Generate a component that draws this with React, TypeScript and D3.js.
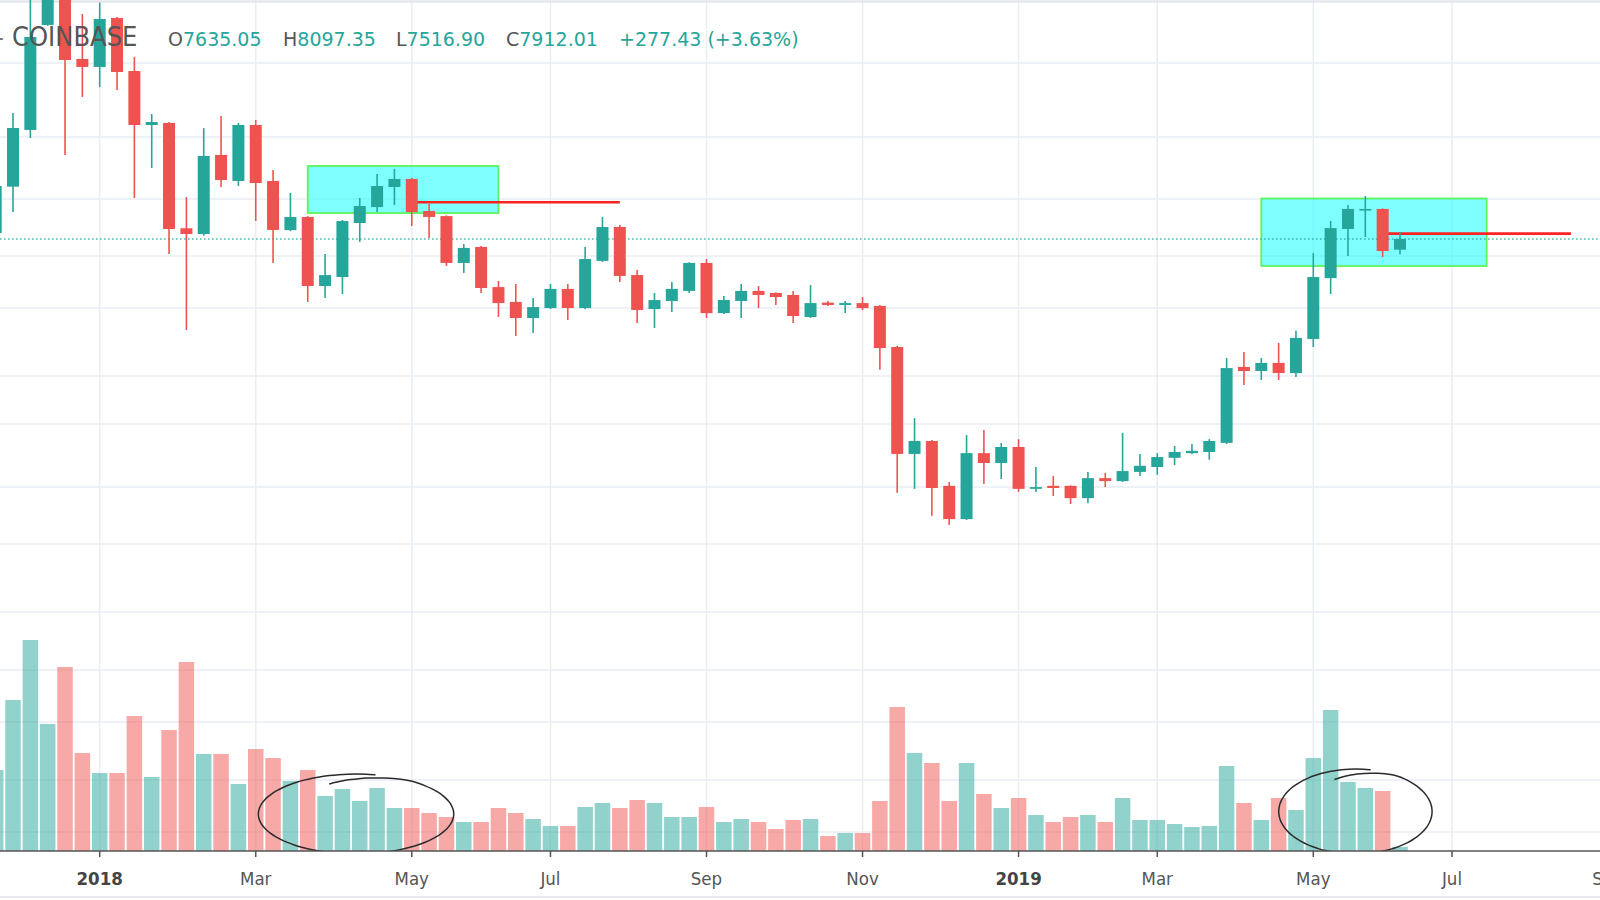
import { useEffect } from "react";
import * as d3 from "d3";

// weekly BTC/USD candles, Coinbase, week of 2017-11-20 .. 2019-06-10
const opens = [
  8070, 9420, 11380, 16150, 18900, 14420, 14040, 16530, 13850, 11570, 11650, 8200,
  8045, 10470, 9600, 11570, 9600, 8150, 8515, 6765, 6970, 8345, 8800, 9410,
  9665, 8685, 8540, 7305, 7705, 6740, 6415, 6080, 6285, 6700, 6285, 7355,
  8235, 7015, 6265, 6435, 6655, 7305, 6180, 6435, 6655, 6610, 6565, 6100,
  6400, 6350, 6390, 6330, 5520, 3865, 4035, 3475, 3110, 3875, 3750, 3955,
  3440, 3475, 3475, 3335, 3565, 3530, 3640, 3700, 3815, 3875, 3890, 4010,
  5165, 5095, 5235, 5060, 5670, 6945, 8180, 8715, 8745, 7635.05,
];
const highs = [
  9700, 12040, 19800, 19700, 19200, 16750, 17400, 16580, 14510, 12000, 11690, 9100,
  11450, 11920, 11650, 11765, 9960, 9225, 8540, 7525, 8430, 9070, 9825, 9990,
  9700, 8890, 8560, 7780, 7730, 6880, 6810, 6500, 6810, 6810, 7705, 8515,
  8290, 7135, 6610, 6855, 7320, 7400, 6545, 6810, 6765, 6620, 6655, 6785,
  6435, 6435, 6520, 6350, 5540, 4355, 4050, 3520, 4115, 4185, 4010, 4060,
  3700, 3590, 3480, 3640, 3630, 4145, 3865, 3875, 3970, 3995, 4060, 5320,
  5430, 5320, 5595, 5825, 7550, 8400, 8860, 9130, 8760, 8097.35,
];
const lows = [
  7990, 8655, 11080, 16100, 10470, 12700, 13130, 13000, 9070, 10025, 7525, 5840,
  8000, 9410, 9440, 8400, 7305, 8120, 6415, 6500, 6585, 7835, 8655, 8860,
  8265, 7940, 7230, 7065, 6610, 6100, 5725, 5785, 6265, 6040, 6260, 7330,
  6855, 5980, 5880, 6205, 6610, 6080, 6160, 6080, 6285, 6350, 5980, 6080,
  6330, 6180, 6245, 5115, 3395, 3440, 3145, 3050, 3100, 3495, 3555, 3405,
  3405, 3360, 3270, 3280, 3460, 3520, 3590, 3605, 3725, 3865, 3790, 3995,
  4865, 4945, 4945, 4995, 5520, 6585, 7475, 7965, 7450, 7516.9,
];
const closes = [
  9440, 11455, 15515, 18900, 14370, 14040, 16475, 13805, 11570, 11685, 8180, 8045,
  10435, 9630, 11570, 9535, 8155, 8515, 6765, 7015, 8400, 8830, 9440, 9665,
  8655, 8515, 7305, 7680, 6720, 6390, 6080, 6305, 6700, 6285, 7400, 8235,
  6995, 6245, 6455, 6700, 7305, 6180, 6455, 6655, 6565, 6520, 6120, 6390,
  6350, 6390, 6285, 5500, 3865, 4035, 3450, 3110, 3875, 3750, 3955, 3440,
  3460, 3450, 3335, 3565, 3530, 3650, 3715, 3825, 3890, 3905, 4035, 5145,
  5095, 5235, 5060, 5690, 6970, 8205, 8745, 8745, 7600, 7912.01,
];
// weekly volume, thousand BTC
const volumes = [
  81, 151, 211, 127, 184, 98, 78, 78, 135, 74, 121, 189,
  97, 97, 67, 102, 93, 70, 81, 55, 62, 50, 63, 43,
  43, 38, 34, 29, 29, 43, 38, 32, 25, 25, 44, 48,
  43, 51, 48, 34, 34, 44, 29, 32, 29, 22, 31, 32,
  15, 18, 18, 50, 144, 98, 88, 50, 88, 57, 43, 53,
  36, 29, 34, 36, 29, 53, 31, 31, 27, 24, 25, 85,
  48, 31, 53, 41, 93, 141, 69, 63, 60, 4,
];
const weeks = d3.utcMonday.range(new Date("2017-11-20"), new Date("2019-06-11"));

const tickDates = [
  "2018-01-01", "2018-03-05", "2018-05-07", "2018-07-02", "2018-09-03", "2018-11-05",
  "2019-01-07", "2019-03-04", "2019-05-06", "2019-07-01", "2019-09-02",
];
const tickLabels = ["2018", "Mar", "May", "Jul", "Sep", "Nov", "2019", "Mar", "May", "Jul", "Sep"];
const priceGrid = [14225, 11116, 9040, 7476, 6286, 5011, 4270, 3461, 2863, 2282, 1881, 1582, 1303, 1096];

const lastClose = 7912.01;
const header = [
  { key: "O", value: "7635.05" },
  { key: "H", value: "8097.35" },
  { key: "L", value: "7516.90" },
  { key: "C", value: "7912.01" },
];
const change = "+277.43 (+3.63%)";

// drawings made on the chart
const boxes = [
  { from: "2018-03-26", to: "2018-06-11", top: 10092, bottom: 8628 },
  { from: "2019-04-15", to: "2019-07-15", top: 9055, bottom: 7231 },
];
const hLines = [
  { from: "2018-05-07", to: "2018-07-30", price: 8941 },
  { from: "2019-06-03", to: "2019-08-18", price: 8055 },
];
const circles = [
  { from: "2018-03-06", to: "2018-05-24", top: 77, bottom: -3 },
  { from: "2019-04-22", to: "2019-06-23", top: 82, bottom: -3 },
];

const W = 1600;
const H = 900;
const PANE_BOTTOM = 851;
const UP = "#26a69a";
const DOWN = "#ef5350";
const GRID = "#e8eef4";
const FONT = "'DejaVu Sans', sans-serif";
const FONT_C = "'DejaVu Sans Condensed', 'DejaVu Sans', sans-serif";

function handCircle(cx: number, cy: number, rx: number, ry: number) {
  const pts: [number, number][] = [];
  const start = -Math.PI / 2 - 0.35;
  const sweep = 2 * Math.PI + 0.55;
  const n = 72;
  for (let i = 0; i <= n; i++) {
    const t = (i / n) * sweep;
    const a = start + t;
    const grow = t < 0.9 ? 0.8 + 0.2 * (t / 0.9) : 1;
    pts.push([cx + rx * grow * Math.cos(a), cy + ry * grow * Math.sin(a)]);
  }
  return d3.line().curve(d3.curveBasis)(pts) || "";
}

export default function App() {
  useEffect(() => {
    document.body.style.margin = "0";
  }, []);

  const x = d3
    .scaleUtc()
    .domain([new Date("2018-01-01"), new Date("2019-07-01")])
    .range([99.7, 1452]);
  const y = d3.scaleLog().domain([2375, 17550]).range([600, 0]);
  const v = d3.scaleLinear().domain([0, 211]).range([PANE_BOTTOM, 640]);

  const bodyW = 12;
  const volW = 15.5;

  return (
    <svg width={W} height={H} style={{ display: "block", background: "#fff" }}>
      <defs>
        <clipPath id="pane">
          <rect x={0} y={0} width={W} height={PANE_BOTTOM} />
        </clipPath>
      </defs>
      <rect x={0} y={0} width={W} height={H} fill="#fff" />

      {/* grid */}
      <g stroke={GRID} strokeWidth={1.5}>
        {priceGrid.map((p) => (
          <line key={p} x1={0} x2={W} y1={y(p)} y2={y(p)} />
        ))}
        {tickDates.map((d) => (
          <line key={d} x1={x(new Date(d))} x2={x(new Date(d))} y1={0} y2={PANE_BOTTOM} />
        ))}
      </g>
      <line x1={0} x2={W} y1={1.5} y2={1.5} stroke="#dfe2e8" strokeWidth={2} />

      <g clipPath="url(#pane)">
        {/* volume */}
        {volumes.map((vol, i) => {
          const up = closes[i] >= opens[i];
          return (
            <rect
              key={"v" + i}
              x={x(weeks[i]) - volW / 2}
              y={v(vol)}
              width={volW}
              height={PANE_BOTTOM - v(vol)}
              fill={up ? "rgba(38,166,154,0.5)" : "rgba(239,83,80,0.5)"}
            />
          );
        })}

        {/* rectangles */}
        {boxes.map((b, i) => (
          <rect
            key={"b" + i}
            x={x(new Date(b.from))}
            y={y(b.top)}
            width={x(new Date(b.to)) - x(new Date(b.from))}
            height={y(b.bottom) - y(b.top)}
            fill="rgba(0,255,255,0.5)"
            stroke="#5cf55c"
            strokeWidth={1.8}
          />
        ))}

        {/* horizontal rays */}
        {hLines.map((l, i) => (
          <line
            key={"h" + i}
            x1={x(new Date(l.from))}
            x2={x(new Date(l.to))}
            y1={y(l.price)}
            y2={y(l.price)}
            stroke="#ff2424"
            strokeWidth={2.6}
          />
        ))}

        {/* last price line */}
        <line
          x1={0}
          x2={W}
          y1={y(lastClose)}
          y2={y(lastClose)}
          stroke={UP}
          strokeOpacity={0.8}
          strokeWidth={1.3}
          strokeDasharray="1.6 2.4"
        />

        {/* candles */}
        {opens.map((o, i) => {
          const c = closes[i];
          const up = c >= o;
          const col = up ? UP : DOWN;
          const cx = x(weeks[i]);
          const top = y(Math.max(o, c));
          const bot = y(Math.min(o, c));
          return (
            <g key={"c" + i}>
              <line x1={cx} x2={cx} y1={y(highs[i])} y2={y(lows[i])} stroke={col} strokeWidth={1.6} />
              <rect x={cx - bodyW / 2} y={top} width={bodyW} height={Math.max(1.6, bot - top)} fill={col} />
            </g>
          );
        })}

        {/* hand-drawn circles */}
        {circles.map((c, i) => {
          const x0 = x(new Date(c.from));
          const x1 = x(new Date(c.to));
          const y0 = v(c.top);
          const y1 = v(c.bottom);
          return (
            <path
              key={"o" + i}
              d={handCircle((x0 + x1) / 2, (y0 + y1) / 2, (x1 - x0) / 2, (y1 - y0) / 2)}
              fill="none"
              stroke="#2b2b2b"
              strokeWidth={1.5}
            />
          );
        })}
      </g>

      {/* time axis */}
      <line x1={0} x2={W} y1={PANE_BOTTOM} y2={PANE_BOTTOM} stroke="#555" strokeWidth={1.5} />
      {tickDates.map((d, i) => {
        const tx = x(new Date(d));
        const bold = /^\d{4}$/.test(tickLabels[i]);
        return (
          <g key={"t" + d}>
            <line x1={tx} x2={tx} y1={PANE_BOTTOM} y2={PANE_BOTTOM + 6} stroke="#555" strokeWidth={1.5} />
            <text
              x={tx}
              y={885}
              textAnchor="middle"
              fontFamily={FONT_C}
              fontSize={18.5}
              fontWeight={bold ? "bold" : "normal"}
              fill={bold ? "#444" : "#555"}
            >
              {tickLabels[i]}
            </text>
          </g>
        );
      })}
      <line x1={0} x2={W} y1={897} y2={897} stroke="#e0e3eb" strokeWidth={1.5} />

      {/* legend */}
      <text x={4} y={46} textAnchor="end" fontFamily={FONT} fontSize={25} fill="#777">
        -
      </text>
      <text x={12} y={46} fontFamily={FONT_C} fontSize={27} fill="#555">
        COINBASE
      </text>
      {header.map((h, i) => (
        <text key={h.key} x={[168, 283, 396, 506][i]} y={46} fontFamily={FONT} fontSize={19}>
          <tspan fill="#555">{h.key}</tspan>
          <tspan fill={UP}>{h.value}</tspan>
        </text>
      ))}
      <text x={619} y={46} fontFamily={FONT} fontSize={19} fill={UP}>
        {change}
      </text>
    </svg>
  );
}
